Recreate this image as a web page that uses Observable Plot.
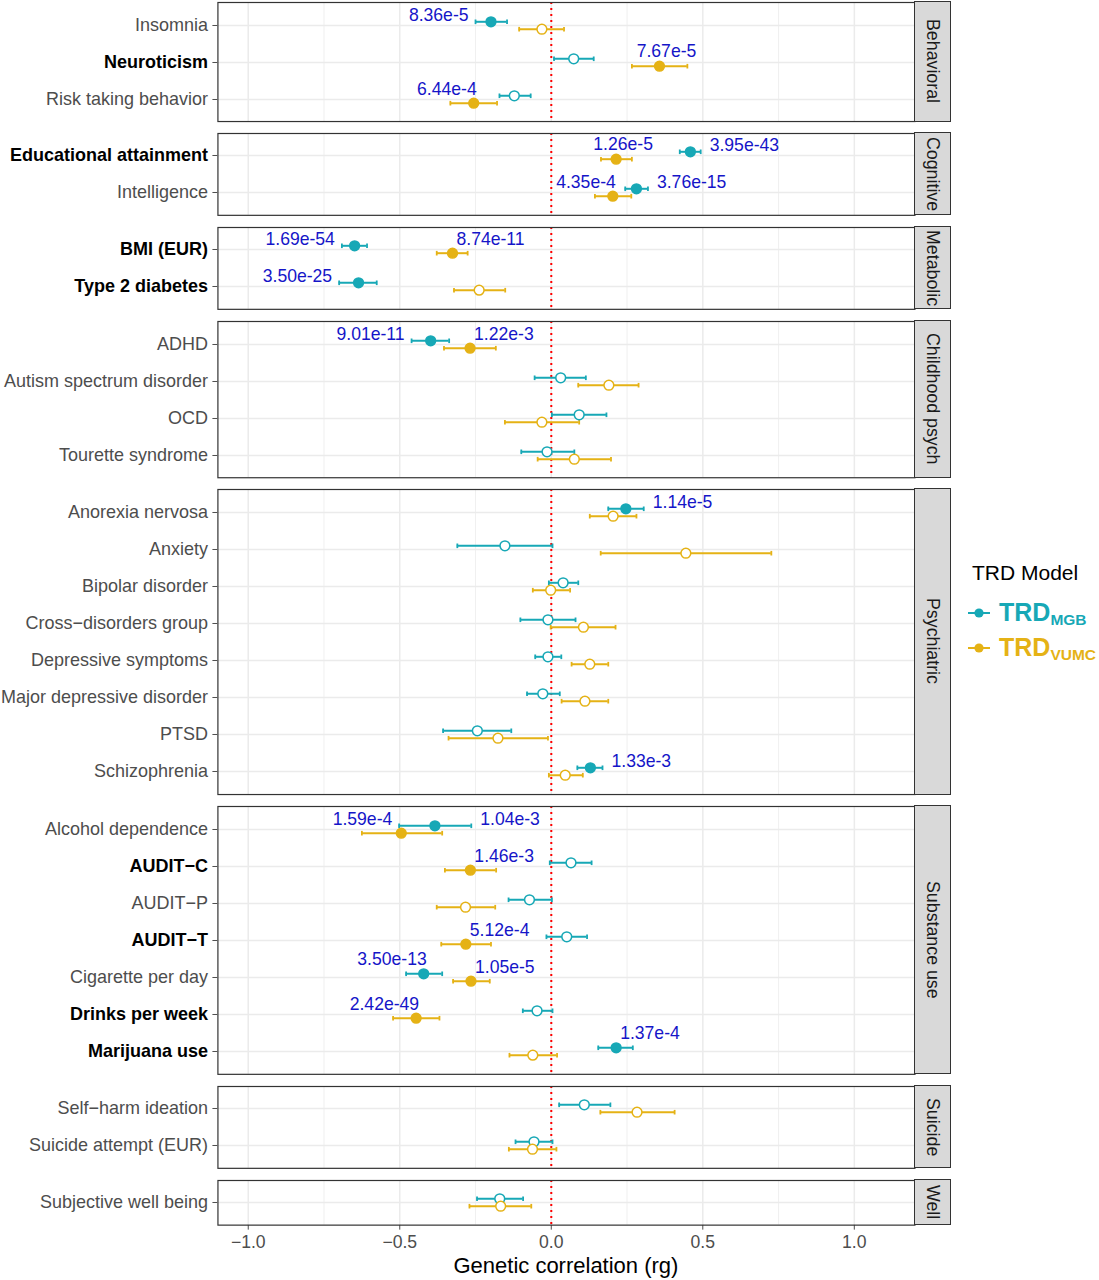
<!DOCTYPE html>
<html><head><meta charset="utf-8">
<script src="https://cdn.jsdelivr.net/npm/d3@7"></script>
<script src="https://cdn.jsdelivr.net/npm/@observablehq/plot@0.6"></script>
<style>
body{margin:0;background:#fff;font-family:"Liberation Sans",Arial,sans-serif;}
#chart{position:relative;width:1099px;height:1280px;overflow:hidden;}
.panel{position:absolute;left:0;}
.strip{position:absolute;background:#D9D9D9;border:1.2px solid #333;box-sizing:border-box;display:flex;align-items:center;justify-content:center;}
.strip span{writing-mode:vertical-rl;font-size:17.8px;color:#1A1A1A;white-space:nowrap;}
.xtitle{position:absolute;font-size:22px;color:#000;white-space:nowrap;transform:translateX(-50%);}
.legend{position:absolute;left:968px;top:560px;}
.legend .ttl{font-size:21px;color:#000;margin-left:4px;height:26px;line-height:26px;margin-bottom:9.5px;}
.legend .item{display:flex;align-items:center;height:35px;}
.legend .item b{font-size:25px;margin-left:9px;}
.legend .item b sub{font-size:15.5px;vertical-align:-4px;}
</style></head><body><div id="chart"></div><script>
// ---------------- data ----------------
const categories = ["Behavioral","Cognitive","Metabolic","Childhood psych","Psychiatric","Substance use","Suicide","Well"];
const traits = ["Insomnia","Neuroticism","Risk taking behavior","Educational attainment","Intelligence","BMI (EUR)","Type 2 diabetes","ADHD","Autism spectrum disorder","OCD","Tourette syndrome","Anorexia nervosa","Anxiety","Bipolar disorder","Cross−disorders group","Depressive symptoms","Major depressive disorder","PTSD","Schizophrenia","Alcohol dependence","AUDIT−C","AUDIT−P","AUDIT−T","Cigarette per day","Drinks per week","Marijuana use","Self−harm ideation","Suicide attempt (EUR)","Subjective well being"];
const traitCategory = ["Behavioral","Behavioral","Behavioral","Cognitive","Cognitive","Metabolic","Metabolic","Childhood psych","Childhood psych","Childhood psych","Childhood psych","Psychiatric","Psychiatric","Psychiatric","Psychiatric","Psychiatric","Psychiatric","Psychiatric","Psychiatric","Substance use","Substance use","Substance use","Substance use","Substance use","Substance use","Substance use","Suicide","Suicide","Well"];
const boldTraits = ["Neuroticism","Educational attainment","BMI (EUR)","Type 2 diabetes","AUDIT−C","AUDIT−T","Drinks per week","Marijuana use"];

const mgbRg = [-0.199,0.074,-0.122,0.459,0.281,-0.649,-0.636,-0.398,0.031,0.092,-0.014,0.246,-0.153,0.039,-0.011,-0.011,-0.028,-0.244,0.129,-0.384,0.065,-0.072,0.051,-0.421,-0.047,0.214,0.109,-0.057,-0.170];
const mgbLo = [-0.250,0.009,-0.171,0.424,0.244,-0.691,-0.700,-0.461,-0.055,0.002,-0.099,0.188,-0.310,-0.008,-0.102,-0.053,-0.080,-0.357,0.086,-0.502,-0.005,-0.141,-0.016,-0.479,-0.094,0.155,0.026,-0.118,-0.245];
const mgbHi = [-0.146,0.140,-0.068,0.493,0.319,-0.608,-0.576,-0.337,0.114,0.182,0.076,0.305,0.004,0.089,0.080,0.033,0.028,-0.132,0.169,-0.264,0.133,0.002,0.118,-0.360,0.004,0.269,0.195,0.004,-0.093];
const mgbP = ["8.36e-5","","","3.95e-43","3.76e-15","1.69e-54","3.50e-25","9.01e-11","","","","1.14e-5","","","","","","","1.33e-3","1.04e-3","","","","3.50e-13","","1.37e-4","","",""];

const vumcRg = [-0.031,0.357,-0.256,0.214,0.203,-0.326,-0.238,-0.268,0.190,-0.031,0.076,0.204,0.444,-0.002,0.106,0.127,0.111,-0.176,0.046,-0.495,-0.267,-0.283,-0.282,-0.265,-0.446,-0.061,0.283,-0.062,-0.167];
const vumcLo = [-0.106,0.266,-0.333,0.164,0.144,-0.378,-0.321,-0.354,0.089,-0.153,-0.045,0.127,0.163,-0.061,-0.002,0.067,0.034,-0.339,-0.008,-0.625,-0.351,-0.378,-0.363,-0.324,-0.522,-0.138,0.162,-0.140,-0.270];
const vumcHi = [0.042,0.449,-0.179,0.266,0.264,-0.276,-0.152,-0.183,0.288,0.092,0.197,0.281,0.726,0.062,0.212,0.188,0.188,-0.011,0.104,-0.360,-0.182,-0.185,-0.199,-0.203,-0.369,0.019,0.407,0.017,-0.066];
const vumcP = ["","7.67e-5","6.44e-4","1.26e-5","4.35e-4","8.74e-11","","1.22e-3","","","","","","","","","","","","1.59e-4","1.46e-3","","5.12e-4","1.05e-5","2.42e-49","","","",""];

const models = ["MGB","VUMC"];
const modelSub = ["MGB","VUMC"];
const xTicks = [-1,-0.5,0,0.5,1];
const xMinor = [-0.75,-0.25,0.25,0.75];
const xTitle = "Genetic correlation (rg)";
const legendTitle = "TRD Model";

// ---------------- label placement (rendering) ----------------
const placement = {
  "Insomnia|MGB":"left","Educational attainment|MGB":"right","Intelligence|MGB":"right","BMI (EUR)|MGB":"left",
  "Type 2 diabetes|MGB":"left","ADHD|MGB":"left","Anorexia nervosa|MGB":"right","Schizophrenia|MGB":"right",
  "Alcohol dependence|MGB":"right","Cigarette per day|MGB":"aboveLeft","Marijuana use|MGB":"aboveRight",
  "Neuroticism|VUMC":"above","Risk taking behavior|VUMC":"aboveLeft","Educational attainment|VUMC":"above",
  "Intelligence|VUMC":"aboveLeft","BMI (EUR)|VUMC":"aboveRight","ADHD|VUMC":"aboveRight",
  "Alcohol dependence|VUMC":"aboveLeftWide","AUDIT−C|VUMC":"aboveRight","AUDIT−T|VUMC":"aboveRight",
  "Cigarette per day|VUMC":"aboveRight","Drinks per week|VUMC":"aboveLeft"
};
const kinds = {
  left:{x:"lo",anchor:"end",dx:-7,dy:-6},
  right:{x:"hi",anchor:"start",dx:9,dy:-6},
  above:{x:"rg",anchor:"middle",dx:7,dy:-15},
  aboveLeft:{x:"rg",anchor:"end",dx:3,dy:-14},
  aboveLeftWide:{x:"rg",anchor:"end",dx:-9,dy:-14},
  aboveRight:{x:"rg",anchor:"start",dx:4,dy:-14}
};

// ---------------- build ----------------
const colors = {MGB:"#17A8B6", VUMC:"#E5B215"};
const rows = [];
traits.forEach((t,i)=>{
  rows.push({trait:t,category:traitCategory[i],model:"MGB",rg:mgbRg[i],lo:mgbLo[i],hi:mgbHi[i],p:mgbP[i]});
  rows.push({trait:t,category:traitCategory[i],model:"VUMC",rg:vumcRg[i],lo:vumcLo[i],hi:vumcHi[i],p:vumcP[i]});
});
rows.forEach(d=>{d.place = placement[d.trait+"|"+d.model];});

const unit = 37.2, gap = 12, top0 = 2;
const panelLeft = 217.4, panelRight = 914.5, svgWidth = 916;
const dodge = 3.7;
const font = "'Liberation Sans', Arial, sans-serif";
const capSymbol = {draw(ctx,size){const r=Math.sqrt(size/Math.PI); ctx.moveTo(0,-r); ctx.lineTo(0,r);}};
const fmt = d => d.toFixed(1).replace("-","−");
const chart = document.getElementById("chart");

let y0 = top0;
categories.forEach((cat,ci)=>{
  const catTraits = traits.filter((t,i)=>traitCategory[i]===cat);
  const n = catTraits.length;
  const h = unit*(n+0.2);
  const isLast = ci===categories.length-1;
  const mTop = 1, mBottom = isLast ? 34 : 1;
  const data = rows.filter(d=>d.category===cat);
  const marks = [
    Plot.ruleX(xMinor,{stroke:"#EBEBEB",strokeWidth:0.8}),
    Plot.ruleX(xTicks,{stroke:"#EBEBEB",strokeWidth:1.5}),
    Plot.ruleY(catTraits,{stroke:"#EBEBEB",strokeWidth:1.5}),
    Plot.ruleX([0],{stroke:"#FF0000",strokeWidth:2,strokeDasharray:"2,4"})
  ];
  models.forEach(m=>{
    const md = data.filter(d=>d.model===m);
    const dy = m==="MGB" ? -dodge : dodge;
    marks.push(Plot.ruleY(md,{y:"trait",x1:"lo",x2:"hi",stroke:colors[m],strokeWidth:2,dy}));
    marks.push(Plot.dot(md,{x:"lo",y:"trait",symbol:capSymbol,r:2.3,stroke:colors[m],strokeWidth:1.8,fill:"none",dy}));
    marks.push(Plot.dot(md,{x:"hi",y:"trait",symbol:capSymbol,r:2.3,stroke:colors[m],strokeWidth:1.8,fill:"none",dy}));
  });
  models.forEach(m=>{
    const md = data.filter(d=>d.model===m);
    const dy = m==="MGB" ? -dodge : dodge;
    marks.push(Plot.dot(md.filter(d=>!d.p),{x:"rg",y:"trait",r:4.9,stroke:colors[m],strokeWidth:1.5,fill:"white",dy}));
    marks.push(Plot.dot(md.filter(d=>d.p),{x:"rg",y:"trait",r:4.9,stroke:colors[m],strokeWidth:1.5,fill:colors[m],dy}));
  });
  models.forEach(m=>{
    const md = data.filter(d=>d.model===m && d.p);
    const dyM = m==="MGB" ? -dodge : dodge;
    Object.entries(kinds).forEach(([k,spec])=>{
      const sub = md.filter(d=>d.place===k);
      if (!sub.length) return;
      marks.push(Plot.text(sub,{x:spec.x,y:"trait",text:"p",textAnchor:spec.anchor,dx:spec.dx,dy:dyM+spec.dy,fill:"#1515C8",fontSize:17.6}));
    });
  });
  marks.push(Plot.frame({stroke:"#333333",strokeWidth:1.2}));

  const svg = Plot.plot({
    width:svgWidth, height:h+mTop+mBottom,
    marginLeft:panelLeft, marginRight:svgWidth-panelRight, marginTop:mTop, marginBottom:mBottom,
    x:{domain:[-1.1,1.2], axis:isLast?"bottom":null, ticks:xTicks, tickFormat:fmt, tickSize:5, tickPadding:5, label:null},
    y:{type:"point", domain:catTraits, padding:0.6, tickSize:5, tickPadding:5, label:null},
    style:{fontSize:"17.6px", fontFamily:font, color:"#4D4D4D", background:"transparent", overflow:"visible"},
    marks
  });
  d3.select(svg).selectAll("text").filter(function(){return traits.includes(this.textContent);})
    .style("font-size","18px");
  d3.select(svg).selectAll("text").filter(function(){return boldTraits.includes(this.textContent);})
    .attr("font-weight","bold").attr("fill","#000").style("fill","#000");
  const wrap = document.createElement("div");
  wrap.className = "panel";
  wrap.style.top = (y0-mTop)+"px";
  wrap.appendChild(svg);
  chart.appendChild(wrap);

  const strip = document.createElement("div");
  strip.className = "strip";
  strip.style.left = (panelRight-0.6)+"px";
  strip.style.top = (y0-0.6)+"px";
  strip.style.width = "37px";
  strip.style.height = (h+1.2)+"px";
  strip.innerHTML = "<span>"+cat+"</span>";
  chart.appendChild(strip);

  y0 += h + gap;
});

// axis title
const xt = document.createElement("div");
xt.className = "xtitle";
xt.style.left = ((panelLeft+panelRight)/2)+"px";
xt.style.top = "1253px";
xt.textContent = xTitle;
chart.appendChild(xt);

// legend
const lg = document.createElement("div");
lg.className = "legend";
let html = "<div class='ttl'>"+legendTitle+"</div>";
models.forEach((m,i)=>{
  html += "<div class='item' style='color:"+colors[m]+"'><svg width='22' height='12'><line x1='0' x2='22' y1='6' y2='6' stroke='"+colors[m]+"' stroke-width='2'/><circle cx='11' cy='6' r='4.6' fill='"+colors[m]+"'/></svg><b>TRD<sub>"+modelSub[i]+"</sub></b></div>";
});
lg.innerHTML = html;
chart.appendChild(lg);
</script></body></html>
